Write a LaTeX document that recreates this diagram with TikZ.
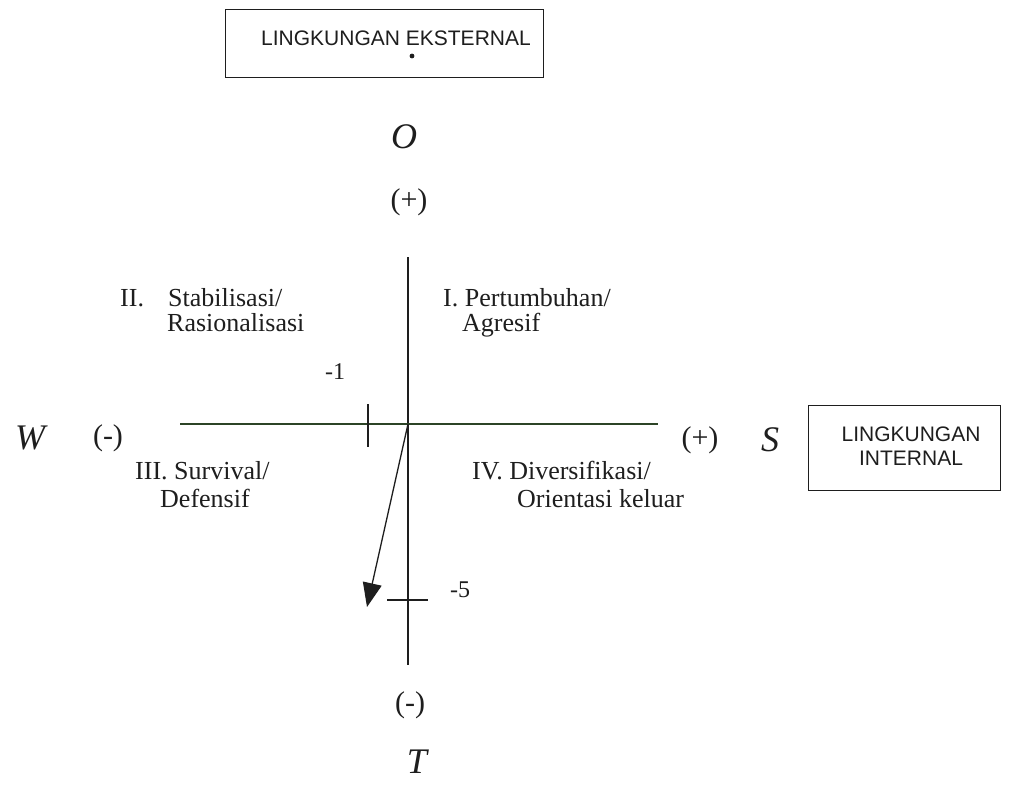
\documentclass[tikz,border=0pt]{standalone}
\usepackage{fontspec}
\setmainfont{Liberation Serif}
\newfontfamily\boxfont{Liberation Sans}
\usetikzlibrary{arrows.meta}
\definecolor{ink}{HTML}{1E1E1E}
\definecolor{axisgreen}{HTML}{2C4426}
\begin{document}
\begin{tikzpicture}[x=1pt,y=-1pt,
  lbl/.style={font=\fontsize{26}{30}\selectfont, text=ink, inner sep=0pt, anchor=base west},
  sign/.style={font=\fontsize{30}{34}\selectfont, text=ink, inner sep=0pt},
  axislet/.style={font=\fontsize{36}{40}\selectfont\itshape, text=ink, inner sep=0pt},
  num/.style={font=\fontsize{24}{28}\selectfont, text=ink, inner sep=0pt},
  envbox/.style={draw=ink, line width=1pt},
  envtext/.style={font=\boxfont\fontsize{21}{25}\selectfont, text=ink, inner sep=0pt, align=center},
  axis/.style={line width=1.3pt},
  tick/.style={draw=ink, line width=1.2pt}]
\useasboundingbox (0,0) rectangle (1016,784);
\fill[white] (0,0) rectangle (1016,784);

% external environment box
\draw[envbox] (225,10) rectangle (543,77);
\node[envtext] (ext) at (396,38) {LINGKUNGAN EKSTERNAL};
\fill[ink] (412,56) circle (2.4);

% internal environment box
\draw[envbox] (808,405) rectangle (1000,490);
\node[envtext] (int) at (911,446) {LINGKUNGAN\\[-1pt]INTERNAL};

% axes
\coordinate (origin) at (408,424);
\coordinate (vtop) at (408,257);
\coordinate (vbot) at (408,665);
\coordinate (hleft) at (180,424);
\coordinate (hright) at (658,424);
\draw[axis, draw=ink] (vtop) -- (vbot);
\draw[axis, draw=axisgreen] (hleft) -- (hright);

% ticks
\coordinate (t1a) at (368,404);
\coordinate (t1b) at (368,447);
\coordinate (t5a) at (387,600);
\coordinate (t5b) at (428,600);
\draw[tick] (t1a) -- (t1b);
\draw[tick] (t5a) -- (t5b);

% position vector
\coordinate (pos) at (367,607);
\draw[draw=ink, line width=1.3pt, -{Triangle[length=24pt,width=19pt]}] (origin) -- (pos);

% axis letters and signs
\node[axislet] (O) at (404,137) {O};
\node[sign] (Oplus) at (409,202) {(+)};
\node[axislet] (W) at (30,438) {W};
\node[sign] (Wminus) at (108,438) {(-)};
\node[sign] (Splus) at (700,440) {(+)};
\node[axislet] (S) at (770,440) {S};
\node[sign] (Tminus) at (410,705) {(-)};
\node[axislet] (T) at (417,762) {T};

% scale values
\node[num] (m1) at (335,372) {-1};
\node[num] (m5) at (460,590) {-5};

% quadrant labels
\node[lbl] (q2a) at (120,306) {II.};
\node[lbl] (q2b) at (168,306) {Stabilisasi/};
\node[lbl] (q2c) at (167,331) {Rasionalisasi};
\node[lbl] (q1a) at (443,306) {I. Pertumbuhan/};
\node[lbl] (q1b) at (462,331) {Agresif};
\node[lbl] (q3a) at (135,479) {III. Survival/};
\node[lbl] (q3b) at (160,507) {Defensif};
\node[lbl] (q4a) at (472,479) {IV. Diversifikasi/};
\node[lbl] (q4b) at (517,507) {Orientasi keluar};
\end{tikzpicture}
\end{document}
